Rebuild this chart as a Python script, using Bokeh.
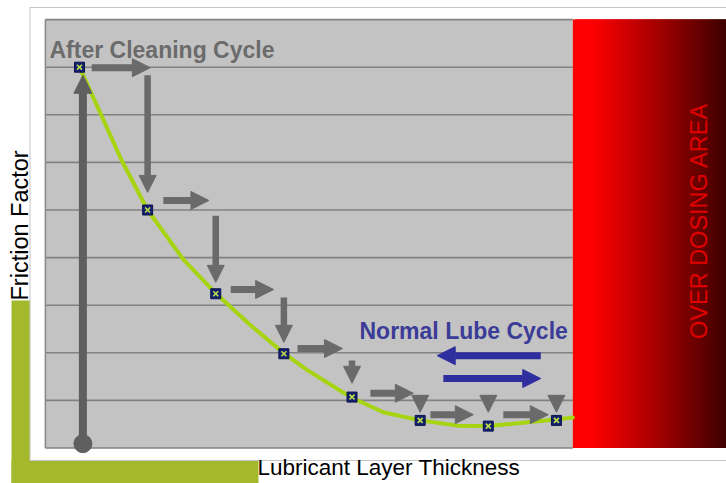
import numpy as np
from bokeh.plotting import figure
from bokeh.models import Range1d, Arrow, NormalHead, ColumnDataSource, Label
from bokeh.embed import file_html
from bokeh.resources import INLINE

# ---------------- data ----------------
# lubricant layer thickness (arbitrary units) / friction factor (grid units)
thickness = [0.5, 1.5, 2.5, 3.5, 4.5, 5.5, 6.5, 7.5]
friction = [8.0, 5.0, 3.24, 1.98, 1.07, 0.58, 0.46, 0.58]

curve_thickness = [0.50, 0.85, 1.12, 1.50, 2.03, 2.50, 3.01, 3.50, 3.85,
                   4.49, 4.96, 5.50, 6.05, 6.50, 7.08, 7.50, 7.74]
curve_friction = [8.00, 6.90, 6.04, 5.00, 3.95, 3.25, 2.58, 1.99, 1.63,
                  1.06, 0.75, 0.58, 0.47, 0.46, 0.54, 0.60, 0.64]

friction_levels = [0, 1, 2, 3, 4, 5, 6, 7, 8, 9]
overdose_start = 7.74
overdose_end = 10.0

# cleaning step (vertical rise)
cleaning_thickness = 0.55
cleaning_from = 0.09
cleaning_to = 7.83

# horizontal step arrows
step_h_x0 = [0.68, 1.73, 2.72, 3.70, 4.77, 5.65, 6.72]
step_h_x1 = [1.54, 2.40, 3.35, 4.36, 5.40, 6.28, 7.38]
step_h_y = [7.99, 5.20, 3.33, 2.09, 1.15, 0.70, 0.70]
# vertical step arrows (drop onto the next point)
step_v_x = thickness[1:]
step_v_y0 = [7.83, 4.88, 3.16, 1.84, 1.04, 1.04, 1.04]
step_v_y1 = [5.37, 3.48, 2.22, 1.36, 0.75, 0.75, 0.75]

# normal lube cycle arrows
normal_x0 = [7.27, 5.84]
normal_x1 = [5.75, 7.27]
normal_y = [1.94, 1.46]

# ---------------- layout helpers (reference pixels -> data) ----------------
PX_X0, PX_PER_X = 44.9, 68.14
PX_Y0, PX_PER_Y = 447.5, 47.6
W, H = 726, 483


def X(px):
    return (px - PX_X0) / PX_PER_X


def Y(py):
    return (PX_Y0 - py) / PX_PER_Y


GRAY = "#6a6a6a"
BLUE = "#2e2e9e"
LIME = "#a6d411"
OLIVE = "#a4b82c"
FONT = "Liberation Sans"

p = figure(width=W, height=H,
           x_range=Range1d(X(0), X(W)), y_range=Range1d(Y(H), Y(0)),
           output_backend="svg", toolbar_location=None,
           x_axis_type=None, y_axis_type=None, min_border=0,
           outline_line_color=None, background_fill_color="white",
           border_fill_color="white")
p.grid.visible = False

# olive L-shaped band
p.quad(left=[X(11), X(11)], right=[X(29.5), X(258)],
       top=[Y(300), Y(460)], bottom=[Y(495), Y(495)],
       fill_color=OLIVE, line_color=None)

# white frame
p.quad(left=[X(29.5)], right=[X(760)], top=[Y(7)], bottom=[Y(460)],
       fill_color="white", line_color="#c4c4c4", line_width=1)

# gray plotting area
p.quad(left=[0], right=[overdose_start], top=[friction_levels[-1]],
       bottom=[friction_levels[0]], fill_color="#c3c3c3", line_color=None)
p.segment(x0=[0] * len(friction_levels), x1=[overdose_start] * len(friction_levels),
          y0=friction_levels, y1=friction_levels, line_color="#828282", line_width=1.6)
p.segment(x0=[0], x1=[0], y0=[friction_levels[0]], y1=[friction_levels[-1]],
          line_color="#8a8a8a", line_width=1.6)

# over-dosing area: red gradient (overlapping strips, drawn left to right)
n = 77
edges = np.linspace(overdose_start, overdose_end, n + 1)
step = edges[1] - edges[0]
cols = []
for i in range(n):
    t = (i + 0.5) / n
    if t < 0.1:
        r = 255
    else:
        r = int(round(255 - 195 * ((t - 0.1) / 0.9) ** 1.1))
    cols.append("#%02x0000" % r)
p.quad(left=edges[:-1], right=edges[1:] + 2 * step, top=[friction_levels[-1]] * n,
       bottom=[friction_levels[0]] * n, fill_color=cols, line_color=None)

# friction curve
p.line(curve_thickness, curve_friction, line_color=LIME, line_width=4,
       line_join="round", line_cap="round")

# cleaning rise arrow
p.add_layout(Arrow(end=NormalHead(size=18, fill_color="#5f5f5f", line_color="#5f5f5f"),
                   x_start=cleaning_thickness, y_start=cleaning_from,
                   x_end=cleaning_thickness, y_end=cleaning_to,
                   line_color="#5f5f5f", line_width=8))
p.scatter([cleaning_thickness], [cleaning_from], size=18, marker="circle",
          fill_color="#5f5f5f", line_color="#5f5f5f")

# step arrows
src_h = ColumnDataSource(dict(x0=step_h_x0, x1=step_h_x1, y0=step_h_y, y1=step_h_y))
p.add_layout(Arrow(end=NormalHead(size=18, fill_color=GRAY, line_color=GRAY),
                   x_start="x0", y_start="y0", x_end="x1", y_end="y1",
                   source=src_h, line_color=GRAY, line_width=7))
src_v = ColumnDataSource(dict(x0=step_v_x, x1=step_v_x, y0=step_v_y0, y1=step_v_y1))
p.add_layout(Arrow(end=NormalHead(size=17, fill_color=GRAY, line_color=GRAY),
                   x_start="x0", y_start="y0", x_end="x1", y_end="y1",
                   source=src_v, line_color=GRAY, line_width=6.5))

# normal lube cycle arrows
src_n = ColumnDataSource(dict(x0=normal_x0, x1=normal_x1, y0=normal_y, y1=normal_y))
p.add_layout(Arrow(end=NormalHead(size=18, fill_color=BLUE, line_color=BLUE),
                   x_start="x0", y_start="y0", x_end="x1", y_end="y1",
                   source=src_n, line_color=BLUE, line_width=7))

# points
p.scatter(thickness, friction, marker="square", size=10,
          fill_color="#14206e", line_color="#0b1250", line_width=1)
p.scatter(thickness, friction, marker="x", size=7,
          line_color="#bfe04a", line_width=1.6)

# texts
p.add_layout(Label(x=X(49), y=Y(49), text="After Cleaning Cycle",
                   text_font=FONT, text_font_size="23px", text_font_style="bold",
                   text_color="#6b6b6b", text_align="left", text_baseline="alphabetic"))
p.add_layout(Label(x=X(359), y=Y(330.5), text="Normal Lube Cycle",
                   text_font=FONT, text_font_size="23px", text_font_style="bold",
                   text_color="#3b3b98", text_align="left", text_baseline="alphabetic"))
p.add_layout(Label(x=X(257), y=Y(467), text="Lubricant Layer Thickness",
                   text_font=FONT, text_font_size="22.5px",
                   text_color="black", text_align="left", text_baseline="alphabetic"))
p.add_layout(Label(x=X(19.8), y=Y(300), text="Friction Factor", angle=np.pi / 2,
                   text_font=FONT, text_font_size="23.5px",
                   text_color="black", text_align="left", text_baseline="alphabetic"))
p.add_layout(Label(x=X(698.5), y=Y(338.5), text="OVER DOSING AREA", angle=np.pi / 2,
                   text_font=FONT, text_font_size="23.5px",
                   text_color="#e00000", text_align="left", text_baseline="alphabetic"))

open("out.html", "w").write(file_html(p, INLINE))
